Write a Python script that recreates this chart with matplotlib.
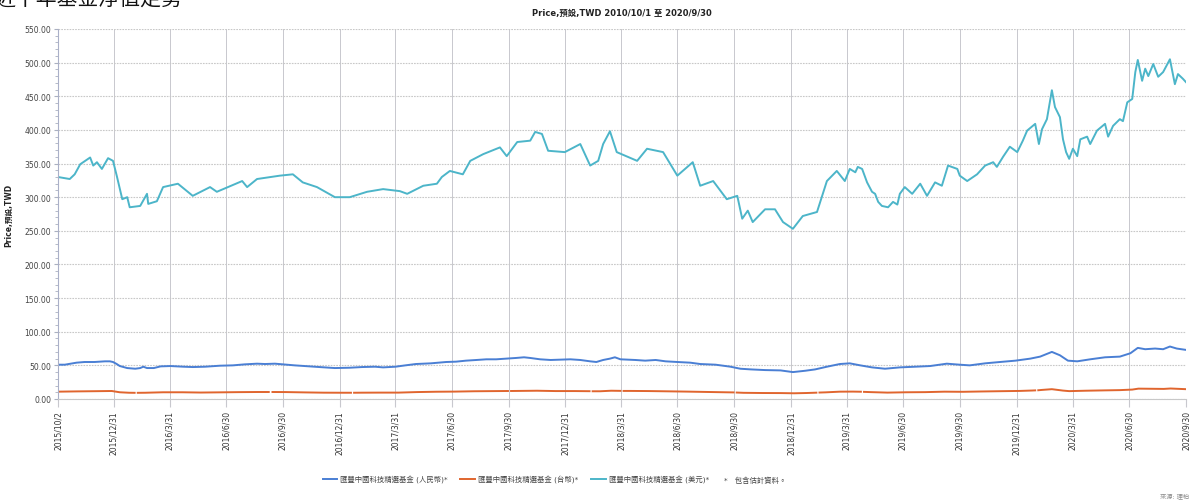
import matplotlib
matplotlib.use('Agg')
import matplotlib.pyplot as plt
import numpy as np
import pandas as pd

plt.rcParams['font.family'] = ['DejaVu Sans', 'Noto Sans CJK TC']

# 美元級別
usd_dates = ['2015-10-02', '2015-10-21', '2015-10-29', '2015-11-07', '2015-11-23', '2015-11-28',
             '2015-12-04', '2015-12-12', '2015-12-22', '2015-12-30', '2016-01-05', '2016-01-14',
             '2016-01-22', '2016-01-26', '2016-02-12', '2016-02-23', '2016-02-25', '2016-03-10',
             '2016-03-20', '2016-04-13', '2016-05-07', '2016-06-04', '2016-06-15', '2016-07-26',
             '2016-08-03', '2016-08-19', '2016-09-25', '2016-10-16', '2016-11-01', '2016-11-24',
             '2016-12-23', '2017-01-16', '2017-02-13', '2017-03-11', '2017-04-07', '2017-04-19',
             '2017-05-15', '2017-06-06', '2017-06-14', '2017-06-27', '2017-07-18', '2017-07-30',
             '2017-08-20', '2017-09-16', '2017-09-27', '2017-10-14', '2017-11-04', '2017-11-12',
             '2017-11-23', '2017-12-03', '2017-12-30', '2018-01-24', '2018-02-09', '2018-02-22',
             '2018-03-02', '2018-03-13', '2018-03-24', '2018-04-26', '2018-05-12', '2018-06-07',
             '2018-06-30', '2018-07-25', '2018-08-06', '2018-08-27', '2018-09-18', '2018-10-05',
             '2018-10-13', '2018-10-22', '2018-10-30', '2018-11-19', '2018-12-05', '2018-12-18',
             '2019-01-03', '2019-01-19', '2019-02-11', '2019-02-27', '2019-03-15', '2019-03-28',
             '2019-04-05', '2019-04-14', '2019-04-18', '2019-04-25', '2019-05-03', '2019-05-11',
             '2019-05-16', '2019-05-21', '2019-05-27', '2019-06-06', '2019-06-14', '2019-06-21',
             '2019-06-25', '2019-07-03', '2019-07-15', '2019-07-28', '2019-08-08', '2019-08-21',
             '2019-09-01', '2019-09-11', '2019-09-26', '2019-09-30', '2019-10-12', '2019-10-28',
             '2019-11-10', '2019-11-23', '2019-11-29', '2019-12-09', '2019-12-20', '2020-01-01',
             '2020-01-10', '2020-01-17', '2020-01-30', '2020-02-05', '2020-02-10', '2020-02-18',
             '2020-02-26', '2020-03-02', '2020-03-10', '2020-03-15', '2020-03-20', '2020-03-25',
             '2020-03-31', '2020-04-07', '2020-04-12', '2020-04-23', '2020-04-28', '2020-05-09',
             '2020-05-22', '2020-05-27', '2020-06-04', '2020-06-15', '2020-06-20', '2020-06-27',
             '2020-07-05', '2020-07-10', '2020-07-14', '2020-07-21', '2020-07-26', '2020-07-31',
             '2020-08-08', '2020-08-16', '2020-08-24', '2020-09-04', '2020-09-12', '2020-09-17',
             '2020-09-25', '2020-09-30']
usd_vals = [330, 327, 334, 349, 359, 347,
            352, 342, 358, 354, 332, 297,
            300, 285, 287, 305, 290, 294,
            315, 320, 302, 315, 308, 324,
            315, 327, 332, 334, 322, 315,
            300, 300, 308, 312, 309, 305,
            317, 320, 330, 339, 334, 354,
            364, 374, 361, 382, 384, 397,
            394, 369, 367, 379, 347, 354,
            379, 398, 367, 354, 372, 367,
            332, 352, 317, 324, 297, 302,
            268, 280, 263, 282, 282, 263,
            253, 272, 278, 324, 339, 324,
            342, 337, 345, 342, 322, 308,
            305, 293, 287, 285, 293, 289,
            305, 315, 305, 320, 302, 322,
            317, 347, 342, 332, 324, 334,
            347, 352, 345, 360, 375, 367,
            384, 399, 409, 379, 401, 416,
            459, 434, 419, 386, 367, 357,
            372, 361, 386, 390, 379, 399,
            409, 390, 406, 416, 413, 441,
            446, 486, 504, 473, 491, 480,
            498, 479, 486, 505, 468, 483,
            476, 471]

# 人民幣級別
cny_dates = ['2015-10-02', '2015-10-13', '2015-11-01', '2015-11-14', '2015-11-30', '2015-12-17',
             '2015-12-25', '2015-12-30', '2016-01-05', '2016-01-10', '2016-01-22', '2016-02-04',
             '2016-02-12', '2016-02-17', '2016-02-23', '2016-03-05', '2016-03-16', '2016-04-01',
             '2016-04-22', '2016-05-07', '2016-05-27', '2016-06-20', '2016-07-11', '2016-07-30',
             '2016-08-19', '2016-09-01', '2016-09-17', '2016-09-30', '2016-10-19', '2016-11-12',
             '2016-11-28', '2016-12-23', '2017-01-16', '2017-02-05', '2017-02-26', '2017-03-11',
             '2017-03-31', '2017-04-16', '2017-05-03', '2017-05-27', '2017-06-21', '2017-07-07',
             '2017-07-23', '2017-08-09', '2017-08-25', '2017-09-10', '2017-09-26', '2017-10-12',
             '2017-10-25', '2017-11-04', '2017-11-20', '2017-12-07', '2017-12-23', '2018-01-08',
             '2018-01-24', '2018-02-09', '2018-02-19', '2018-03-02', '2018-03-13', '2018-03-21',
             '2018-03-30', '2018-04-23', '2018-05-09', '2018-05-26', '2018-06-11', '2018-06-30',
             '2018-07-21', '2018-08-06', '2018-08-31', '2018-09-24', '2018-10-10', '2018-10-27',
             '2018-11-19', '2018-12-14', '2019-01-03', '2019-01-23', '2019-02-08', '2019-02-27',
             '2019-03-20', '2019-04-05', '2019-04-22', '2019-05-11', '2019-06-01', '2019-06-25',
             '2019-07-20', '2019-08-13', '2019-09-09', '2019-09-30', '2019-10-16', '2019-11-10',
             '2019-12-04', '2019-12-29', '2020-01-22', '2020-02-07', '2020-02-26', '2020-03-10',
             '2020-03-23', '2020-04-07', '2020-04-28', '2020-05-22', '2020-06-15', '2020-07-02',
             '2020-07-14', '2020-07-26', '2020-08-11', '2020-08-24', '2020-09-04', '2020-09-15',
             '2020-09-30']
cny_vals = [51, 51, 54, 55, 55, 56,
            56, 55, 52, 49, 46, 45,
            46, 48, 46, 46, 48.5, 49,
            48, 47.5, 48, 49.5, 50, 51.5,
            52.5, 52, 52.5, 51.5, 50, 48.5,
            47.5, 46, 46.5, 47.5, 48, 47,
            48, 50, 52, 53, 55, 55.5,
            57, 58, 59, 59, 60, 61,
            62, 61, 59, 58, 58.5, 59,
            58, 56, 55, 58, 60, 62,
            59, 58, 57, 58, 56, 55,
            54, 52, 51, 48, 45, 44,
            43, 42.5, 40, 42, 44, 48,
            52, 53, 50, 47, 45, 47,
            48, 49, 52.5, 51, 50, 53,
            55, 57, 60, 63, 70, 65,
            57, 56, 59, 62, 63, 68,
            76, 74, 75, 74, 78, 75,
            73]

# 台幣級別 (nan = 缺值)
twd_dates = ['2015-10-02', '2015-11-01', '2015-12-01', '2015-12-28', '2016-01-10', '2016-01-25',
             '2016-02-03', '2016-02-05', '2016-02-08', '2016-02-20', '2016-03-20', '2016-04-20',
             '2016-05-20', '2016-06-20', '2016-07-20', '2016-08-20', '2016-09-07', '2016-09-10',
             '2016-09-13', '2016-10-05', '2016-11-05', '2016-12-05', '2017-01-05', '2017-01-18',
             '2017-01-20', '2017-01-23', '2017-02-05', '2017-03-05', '2017-04-05', '2017-05-05',
             '2017-06-05', '2017-07-05', '2017-08-05', '2017-09-15', '2017-09-29', '2017-10-01',
             '2017-10-04', '2017-10-15', '2017-11-15', '2017-12-15', '2018-01-15', '2018-02-08',
             '2018-02-10', '2018-02-13', '2018-02-25', '2018-03-15', '2018-03-30', '2018-04-01',
             '2018-04-04', '2018-04-15', '2018-05-15', '2018-06-15', '2018-07-15', '2018-08-15',
             '2018-09-15', '2018-09-29', '2018-10-01', '2018-10-04', '2018-10-15', '2018-11-15',
             '2018-12-15', '2019-01-05', '2019-01-25', '2019-02-10', '2019-02-12', '2019-02-15',
             '2019-02-25', '2019-03-20', '2019-04-10', '2019-04-23', '2019-04-25', '2019-04-28',
             '2019-05-10', '2019-06-05', '2019-07-05', '2019-08-05', '2019-09-05', '2019-10-05',
             '2019-11-05', '2019-12-05', '2020-01-05', '2020-01-25', '2020-01-30', '2020-02-01',
             '2020-02-04', '2020-02-10', '2020-02-26', '2020-03-15', '2020-03-25', '2020-04-20',
             '2020-05-20', '2020-06-15', '2020-07-05', '2020-07-15', '2020-08-05', '2020-08-25',
             '2020-09-05', '2020-09-30']
twd_vals = [10.9, 11.3, 11.6, 11.9, 10.0, 9.3,
            9.2, np.nan, 9.2, 9.3, 10.0, 10.0,
            9.6, 9.9, 10.2, 10.4, 10.4, np.nan,
            10.4, 10.3, 9.8, 9.4, 9.3, 9.3,
            np.nan, 9.3, 9.4, 9.5, 9.5, 10.3,
            10.8, 11.0, 11.5, 11.8, 11.9, np.nan,
            11.9, 12.0, 12.3, 11.8, 11.8, 11.6,
            np.nan, 11.5, 11.5, 12.3, 12.1, np.nan,
            12.0, 12.0, 11.8, 11.4, 11.0, 10.5,
            10.0, 9.8, np.nan, 9.6, 9.2, 8.9,
            8.8, 8.5, 8.9, 9.4, np.nan, 9.6,
            9.9, 10.9, 11.0, 10.8, np.nan, 10.6,
            10.2, 9.5, 10.0, 10.2, 10.9, 10.7,
            11.2, 11.6, 12.0, 12.6, 12.8, np.nan,
            13.0, 13.5, 14.6, 12.5, 11.7, 12.3,
            12.8, 13.2, 14.0, 15.4, 15.2, 15.0,
            15.6, 14.6]

tick_labels = ['2015/10/2', '2015/12/31', '2016/3/31', '2016/6/30', '2016/9/30', '2016/12/31',
               '2017/3/31', '2017/6/30', '2017/9/30', '2017/12/31', '2018/3/31', '2018/6/30',
               '2018/9/30', '2018/12/31', '2019/3/31', '2019/6/30', '2019/9/30', '2019/12/31',
               '2020/3/31', '2020/6/30', '2020/9/30']
names = ['匯豐中國科技精選基金 (人民幣)*', '匯豐中國科技精選基金 (台幣)*', '匯豐中國科技精選基金 (美元)*']
colors = ['#4a7fd4', '#e0652e', '#4cb5c9']

fig = plt.figure(figsize=(11.89, 5.02), dpi=100)
ax = fig.add_axes([58 / 1189, 1 - 400 / 502, 1128 / 1189, 370 / 502])

l1, = ax.plot(pd.to_datetime(cny_dates), cny_vals, color=colors[0], lw=1.4)
l2, = ax.plot(pd.to_datetime(twd_dates), twd_vals, color=colors[1], lw=1.4)
l3, = ax.plot(pd.to_datetime(usd_dates), usd_vals, color=colors[2], lw=1.4)

ticks = pd.to_datetime(tick_labels, format='%Y/%m/%d')
ax.set_xticks(ticks)
ax.set_xticklabels(tick_labels, rotation=90, fontsize=5.5, color='#333333')
ax.set_xlim(ticks[0], ticks[-1])

ax.set_ylim(0, 550)
ax.set_yticks(np.arange(0, 551, 50))
ax.set_yticks(np.arange(0, 551, 10), minor=True)
ax.set_yticklabels(['%.2f' % v for v in np.arange(0, 551, 50)], fontsize=5.5, color='#444444')

ax.grid(axis='y', which='major', color='#c8c8c8', ls=(0, (1.5, 1)), lw=0.8)
ax.grid(axis='x', which='major', color='#c8c8ce', ls='-', lw=0.7)
ax.tick_params(axis='x', length=6, color='#c8c8ce', pad=2)
ax.tick_params(axis='y', which='major', length=3, color='#aab0c0', pad=2)
ax.tick_params(axis='y', which='minor', length=2, color='#aab0c0')
for s in ['top', 'right']:
    ax.spines[s].set_visible(False)
ax.spines['left'].set_color('#aab0c8')
ax.spines['bottom'].set_color('#c8c8c8')

ax.set_ylabel('Price,預設,TWD', fontsize=5.5, fontweight='bold', color='#222222', labelpad=8)
ax.set_title('Price,預設,TWD 2010/10/1 至 2020/9/30', fontsize=6, fontweight='bold',
             color='#222222', pad=10)

leg = fig.legend([l1, l2, l3], names, loc='center left', bbox_to_anchor=(316 / 1189, 1 - 480 / 502),
                 ncol=3, frameon=False, fontsize=5.3, handlelength=2.0, columnspacing=1.7,
                 handletextpad=0.4)
for t in leg.get_texts():
    t.set_color('#444444')
fig.text(724 / 1189, 1 - 480 / 502, '*   包含估計資料。', fontsize=5.3, color='#444444', va='center')

fig.text(-0.005, 1.0, '近十年基金淨值走勢', fontsize=15, color='#111111', va='center')
fig.text(1160 / 1189, 1 - 497 / 502, '來源: 理柏', fontsize=4.5, color='#888888', va='center')

fig.savefig('out.png', dpi=100)
